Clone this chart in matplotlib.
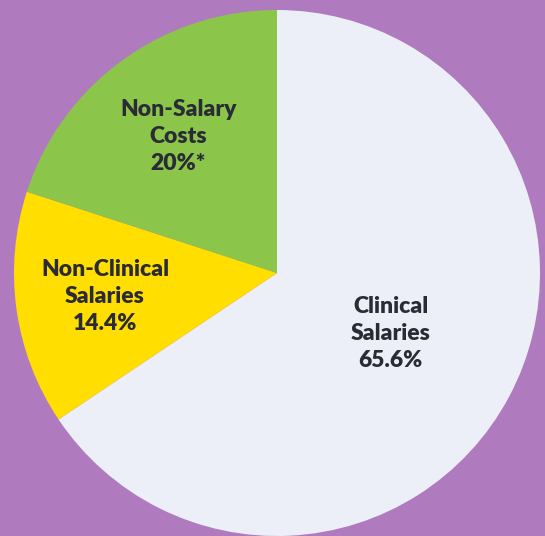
import numpy as np
import matplotlib.pyplot as plt

labels = ['Clinical\nSalaries\n65.6%', 'Non-Clinical\nSalaries\n14.4%', 'Non-Salary\nCosts\n20%*']
shares = [65.6, 14.4, 20.0]
colors = ['#ECEFF8', '#FFDE00', '#8BC64A']
label_dist = [0.49, 0.66, 0.64]

fig = plt.figure(figsize=(5.45, 5.36), dpi=100, facecolor='#B07ABF')
ax = fig.add_axes([0, 0, 1, 1])
ax.set_facecolor('#B07ABF')

center = (277, 263)
radius = 263
wedges, _ = ax.pie(shares, colors=colors, startangle=90, counterclock=False,
                   radius=radius, center=center,
                   wedgeprops=dict(linewidth=0))

for w, lab, d in zip(wedges, labels, label_dist):
    ang = np.deg2rad((w.theta1 + w.theta2) / 2)
    x = center[0] + d * radius * np.cos(ang)
    y = center[1] + d * radius * np.sin(ang)
    ax.text(x, y, lab, ha='center', va='center', fontsize=16.5, fontweight='heavy',
            family='Lato', color='#2A2B36', linespacing=1.35)

ax.set_xlim(0, 545)
ax.set_ylim(0, 536)
ax.set_aspect('equal')
ax.axis('off')

plt.savefig('out.png', dpi=100, facecolor='#B07ABF')
